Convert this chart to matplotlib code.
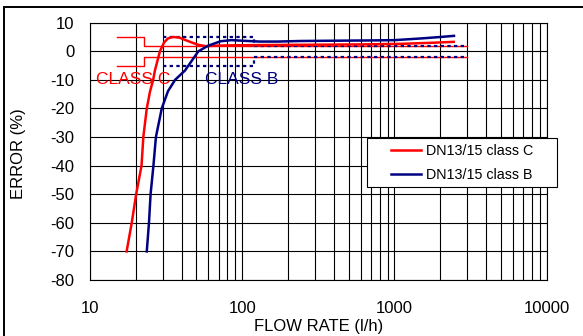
import matplotlib
matplotlib.use("Agg")
import matplotlib.pyplot as plt
from matplotlib.patches import Rectangle

plt.rcParams['font.family'] = ['Liberation Sans', 'DejaVu Sans']
plt.rcParams['axes.unicode_minus'] = False

# Measured error curves (flow in l/h, error in %)
flow_c = [17.4, 18.8, 20.1, 21.8, 22.4, 23.6, 24.8, 26.0, 26.7, 28.8, 30.6, 32.5,
          35.1, 38.5, 42, 47, 52, 58, 70, 90, 150, 300, 600, 1100, 1800, 2450]
err_c = [-70, -60, -50, -40, -30, -20, -14, -10, -6.7, 0, 3, 4.5,
         5, 4.8, 4, 3, 2.2, 1.8, 2.0, 2.1, 2.2, 2.3, 2.4, 2.6, 3.0, 3.3]

flow_b = [23.6, 24.4, 25.0, 26.1, 27.1, 29.6, 32.5, 36.2, 42.1, 51.5, 60, 72,
          85, 100, 130, 170, 240, 400, 700, 1000, 1500, 2000, 2460]
err_b = [-70, -60, -50, -40, -30, -20, -14, -10, -6.7, 0, 2, 3.5,
         3.9, 3.7, 3.4, 3.4, 3.6, 3.7, 3.8, 3.9, 4.5, 5.0, 5.4]

# Class limits
lim_c_flow = [15, 22.5, 22.5, 3000]
lim_b_flow = [30, 120, 120, 3000]
lim_upper = [5, 5, 2, 2]
lim_lower = [-5, -5, -2, -2]

x_ticks = [10, 100, 1000, 10000]
y_ticks = list(range(-80, 11, 10))

W, H = 583, 336
fig = plt.figure(figsize=(W / 100, H / 100), dpi=100)

# outer frame (only top/left edges visible in the picture)
fig.patches.append(Rectangle((4 / W, -0.1), 1.2, 1.1 - 7 / H, transform=fig.transFigure,
                             fill=False, edgecolor='black', linewidth=1.4))

ax = fig.add_axes([90 / W, 1 - 280 / H, (546.7 - 90) / W, (280 - 22.7) / H])
ax.set_xscale('log')
ax.set_xlim(10, 10000)
ax.set_ylim(-80, 10)

ax.plot(lim_c_flow, lim_upper, color='red', lw=1.0, zorder=3)
ax.plot(lim_c_flow, lim_lower, color='red', lw=1.0, zorder=3)
ax.plot(lim_b_flow, lim_upper, color='#000080', lw=1.6, ls=(0, (1.5, 1.5)), zorder=4)
ax.plot(lim_b_flow, lim_lower, color='#000080', lw=1.6, ls=(0, (1.5, 1.5)), zorder=4)

ax.plot(flow_c, err_c, color='red', lw=1.8, label='DN13/15 class C', zorder=5)
ax.plot(flow_b, err_b, color='#000080', lw=1.8, label='DN13/15 class B', zorder=5)

ax.text(10.95, -10, 'CLASS C', color='red', fontsize=12.5, ha='left', va='center', zorder=6)
ax.text(57, -10, 'CLASS B', color='#000080', fontsize=12.5, ha='left', va='center', zorder=6)

ax.set_xticks(x_ticks)
ax.set_xticklabels([str(t) for t in x_ticks])
ax.set_yticks(y_ticks)
ax.tick_params(axis='both', which='both', length=0, labelsize=12)
ax.tick_params(axis='x', pad=15)
ax.tick_params(axis='y', pad=11)
ax.minorticks_on()
ax.yaxis.set_minor_locator(matplotlib.ticker.NullLocator())
ax.xaxis.set_minor_formatter(matplotlib.ticker.NullFormatter())
ax.grid(True, which='both', color='black', lw=0.8)
ax.set_axisbelow(True)
for s in ax.spines.values():
    s.set_linewidth(0.8)

ax.set_xlabel('FLOW RATE (l/h)', fontsize=12, labelpad=2)
ax.set_ylabel('ERROR (%)', fontsize=12)
ax.yaxis.set_label_coords(-0.14, 0.49)

# legend box
fig.patches.append(Rectangle((366.7 / W, 1 - 186.7 / H), 190 / W, 49 / H,
                             transform=fig.transFigure, facecolor='white',
                             edgecolor='black', linewidth=0.8, zorder=10))
leg = fig.legend(loc='center left', bbox_to_anchor=(391 / W, 1 - 163 / H),
                 frameon=False, fontsize=10.3, handlelength=2.1,
                 handletextpad=0.35, labelspacing=0.7, borderaxespad=0, borderpad=0)
leg.set_zorder(11)

fig.savefig('out.png', dpi=100)
